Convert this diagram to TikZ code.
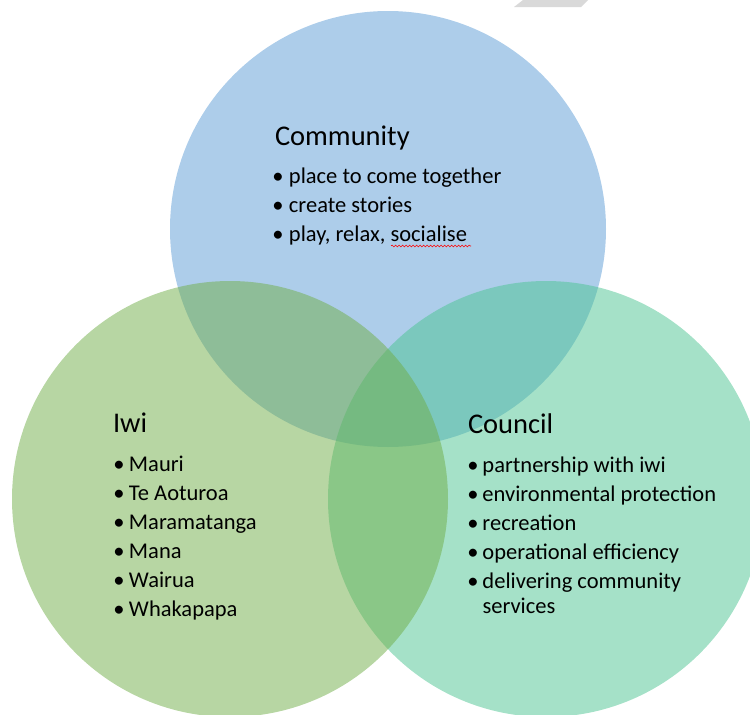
\documentclass[tikz,border=0pt]{standalone}
\usepackage{fontspec}
\setmainfont{Carlito}
\usepackage{tikz}
\usetikzlibrary{decorations.pathmorphing}
\definecolor{comblue}{RGB}{91,155,213}
\definecolor{iwigreen}{RGB}{112,173,71}
\definecolor{counteal}{RGB}{75,196,145}
\tikzstyle{every node}=[inner sep=0pt,outer sep=0pt]
\tikzstyle{ring}=[circle,minimum size=436pt,fill opacity=0.5]
\tikzstyle{head}=[anchor=base west,font=\fontsize{28.5}{34}\selectfont]
\tikzstyle{items}=[anchor=base west,font=\fontsize{22.5}{29}\selectfont]
\newcommand{\bul}{\makebox[0pt]{\textbullet}}

\begin{document}
\begin{tikzpicture}[x=1pt,y=-1pt]
\useasboundingbox (0,0) rectangle (750,715);
\clip (0,0) rectangle (750,715);
% the three sets
\node[ring,fill=comblue] (community) at (388,229) {};
\node[ring,fill=counteal] (council) at (546,499) {};
\node[ring,fill=iwigreen] (iwi) at (230,499) {};
\fill[black!15] (514,7) -- (581,7) -- (588,0) -- (523,0) -- cycle;
% labels
\node[head] (comhead) at (275,145) {Community};
\node[items] (comlist) at (278,183) {\begin{tabular}[t]{@{}c@{\hspace{11pt}}l@{}}
\bul & place to come together\\
\bul & create stories\\
\bul & play, relax, socialise
\end{tabular}};
\draw[red,line width=0.6pt,decorate,decoration={snake,amplitude=0.9pt,segment length=3.5pt}]
  (391,246) -- (471,246);
\node[head] (iwihead) at (113,432) {Iwi};
\node[items] (iwilist) at (119,471) {\begin{tabular}[t]{@{}c@{\hspace{10pt}}l@{}}
\bul & Mauri\\
\bul & Te Aoturoa\\
\bul & Maramatanga\\
\bul & Mana\\
\bul & Wairua\\
\bul & Whakapapa
\end{tabular}};
\node[head] (counhead) at (468,433) {Council};
\node[items] (counlist) at (473,472) {\begin{tabular}[t]{@{}c@{\hspace{9.5pt}}l@{}}
\bul & partnership with iwi\\
\bul & environmental protection\\
\bul & recreation\\
\bul & operational efficiency\\
\bul & delivering community\\[-4pt]
 & services
\end{tabular}};
\end{tikzpicture}
\end{document}
